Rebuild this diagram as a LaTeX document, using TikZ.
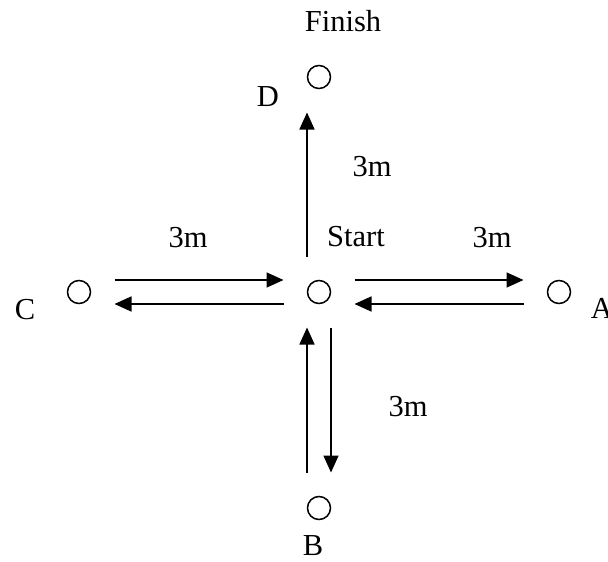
\documentclass[tikz,border=0pt]{standalone}
\usepackage{fontspec}
\setmainfont{Liberation Serif}
\usetikzlibrary{arrows.meta}

\tikzset{
	spot/.style={circle, draw, line width=1.5pt, minimum size=23pt, inner sep=0pt, outer sep=0pt},
	arr/.style={line width=1.6pt, -{Triangle[length=17pt,width=15pt]}, shorten <=24pt, shorten >=24pt},
	lbl/.style={inner sep=0pt}
}

\begin{document}
\begin{tikzpicture}[x=1pt, y=-1pt, font=\fontsize{30.5}{35}\selectfont]
		
		\useasboundingbox (0,0) rectangle (608,562);
		
		% Points
		
		\node[spot] (start) at (319,292) {};
		
		\node[spot] (pointA) at (559,292) {};
		
		\node[spot] (pointB) at (319,508) {};
		
		\node[spot] (pointC) at (79,292) {};
		
		\node[spot] (pointD) at (319,77) {};
		
		% Labels
		
		\node[lbl] (labelStart) at (356,237) {Start};
		
		\node[lbl] (labelFinish) at (343,21) {Finish};
		
		\node[lbl] (labelA) at (602,308) {A};
		
		\node[lbl] (labelB) at (313,546) {B};
		
		\node[lbl] (labelC) at (25,310) {C};
		
		\node[lbl] (labelD) at (268,97) {D};
		
		% Distances
		
		\node[lbl] (distD) at (372,167) {3m};
		
		\node[lbl] (distC) at (188,238) {3m};
		
		\node[lbl] (distA) at (492,238) {3m};
		
		\node[lbl] (distB) at (408,407) {3m};
		
		% Arrows
		
		\draw[arr] ([xshift=-12pt]start.north) -- ([xshift=-12pt]pointD.south);
		
		\draw[arr] ([yshift=12pt]start.east) -- ([yshift=12pt]pointA.west);
		
		\draw[arr] ([yshift=-12pt]pointA.west) -- ([yshift=-12pt]start.east);
		
		\draw[arr] ([yshift=12pt]pointC.east) -- ([yshift=12pt]start.west);
		
		\draw[arr] ([yshift=-12pt]start.west) -- ([yshift=-12pt]pointC.east);
		
		\draw[arr] ([xshift=-12pt]pointB.north) -- ([xshift=-12pt]start.south);
		
		\draw[arr] ([xshift=12pt]start.south) -- ([xshift=12pt]pointB.north);
		
	\end{tikzpicture}
\end{document}
